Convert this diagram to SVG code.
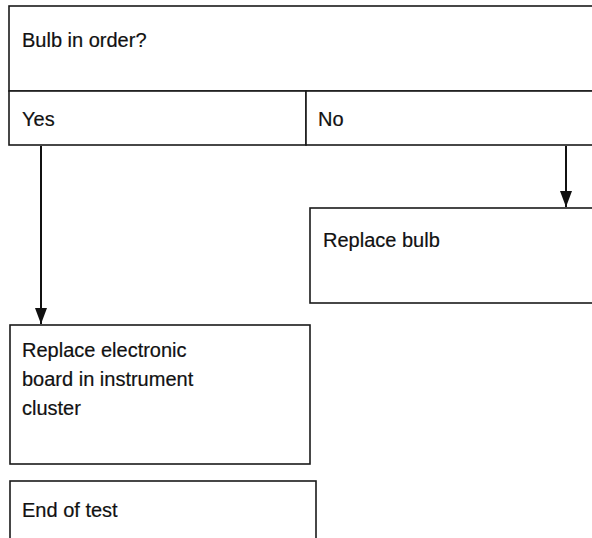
<svg xmlns="http://www.w3.org/2000/svg" width="592" height="538" viewBox="0 0 592 538">
<defs>
<style>
.box{fill:#fff;stroke:#1a1a1a;stroke-width:1.6}
.t{font-family:"Liberation Sans",Arial,sans-serif;font-size:20px;fill:#111;stroke:#111;stroke-width:0.2}
.c{stroke:#111;stroke-width:2;fill:none}
</style>
<marker id="ah" markerWidth="16" markerHeight="12" refX="16" refY="6" orient="auto" markerUnits="userSpaceOnUse" viewBox="0 0 16 12">
<path d="M0,0 L16,6 L0,12 Z" fill="#111"/>
</marker>
</defs>
<rect width="592" height="538" fill="#fff"/>
<g id="question">
<rect class="box" x="9" y="6" width="600" height="85"/>
<text class="t" x="22" y="47">Bulb in order?</text>
</g>
<g id="yes">
<rect class="box" x="9" y="91" width="297" height="54"/>
<text class="t" x="22" y="126">Yes</text>
</g>
<g id="no">
<rect class="box" x="306" y="91" width="300" height="54"/>
<text class="t" x="318" y="126">No</text>
</g>
<g id="replace-bulb">
<rect class="box" x="310" y="208" width="300" height="95"/>
<text class="t" x="323" y="247">Replace bulb</text>
</g>
<g id="replace-board">
<rect class="box" x="10" y="325" width="300" height="139"/>
<text class="t" x="22" y="357">Replace electronic</text>
<text class="t" x="22" y="386">board in instrument</text>
<text class="t" x="22" y="415">cluster</text>
</g>
<g id="end">
<rect class="box" x="10" y="481" width="306" height="60"/>
<text class="t" x="22" y="517">End of test</text>
</g>
<g id="connectors">
<line class="c" x1="41" y1="146" x2="41" y2="324" marker-end="url(#ah)"/>
<line class="c" x1="566" y1="146" x2="566" y2="207" marker-end="url(#ah)"/>
</g>
</svg>
